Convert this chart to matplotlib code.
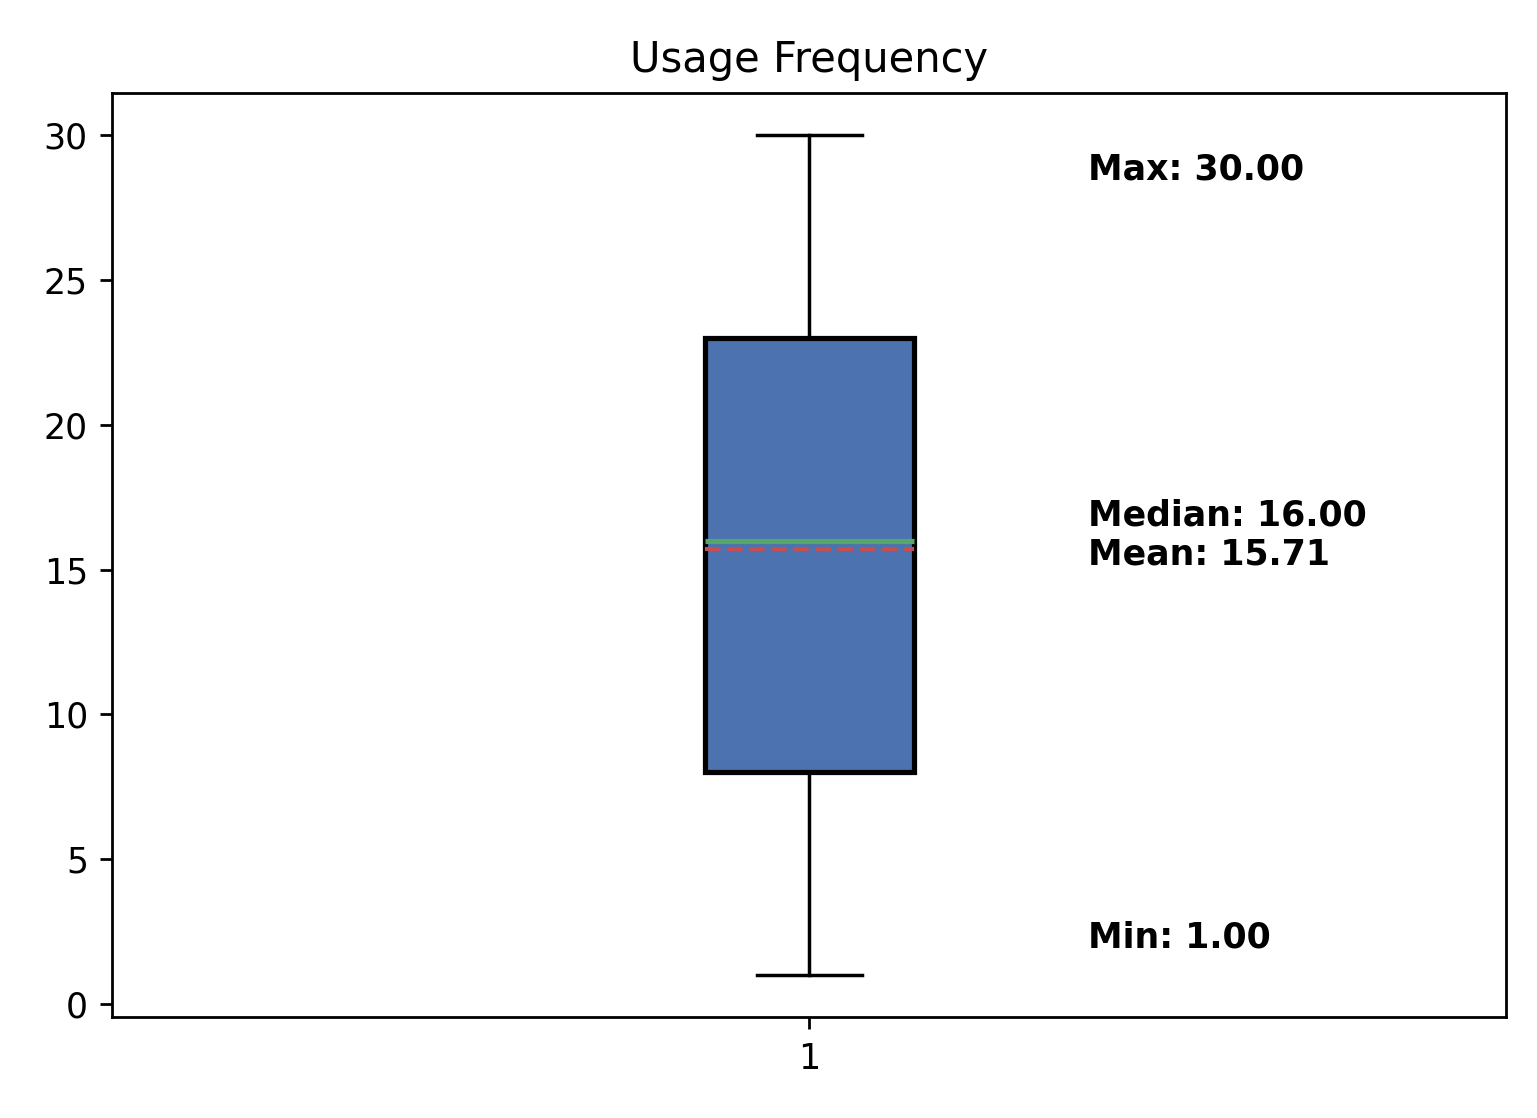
import matplotlib
matplotlib.use("Agg")
import matplotlib.pyplot as plt

# summary stats
labels = ["1"]
whislo = [1.0]
q1 = [8.0]
med = [16.0]
q3 = [23.0]
whishi = [30.0]
mean = [15.71]

stats = [dict(label=labels[i], whislo=whislo[i], q1=q1[i], med=med[i], q3=q3[i],
              whishi=whishi[i], mean=mean[i], fliers=[]) for i in range(len(labels))]

fig, ax = plt.subplots(figsize=(6.148, 4.472), dpi=250)
fig.subplots_adjust(left=0.073, right=0.98, top=0.917, bottom=0.09)

ax.bxp(stats, patch_artist=True, showmeans=True, meanline=True,
       boxprops=dict(facecolor="#4c72b0", edgecolor="black", linewidth=1.5),
       medianprops=dict(color="#55a868", linewidth=1.5),
       meanprops=dict(color="#c44e52", linestyle="--", linewidth=1.2))

ax.set_title("Usage Frequency")

tx = 1.2
ax.text(tx, whishi[0] - 1.2, f"Max: {whishi[0]:.2f}", fontweight="bold", va="center")
ax.text(tx, med[0] + 0.2, f"Median: {med[0]:.2f}\nMean: {mean[0]:.2f}", fontweight="bold", va="center")
ax.text(tx, whislo[0] + 1.3, f"Min: {whislo[0]:.2f}", fontweight="bold", va="center")

fig.savefig("out.png", dpi=250)
